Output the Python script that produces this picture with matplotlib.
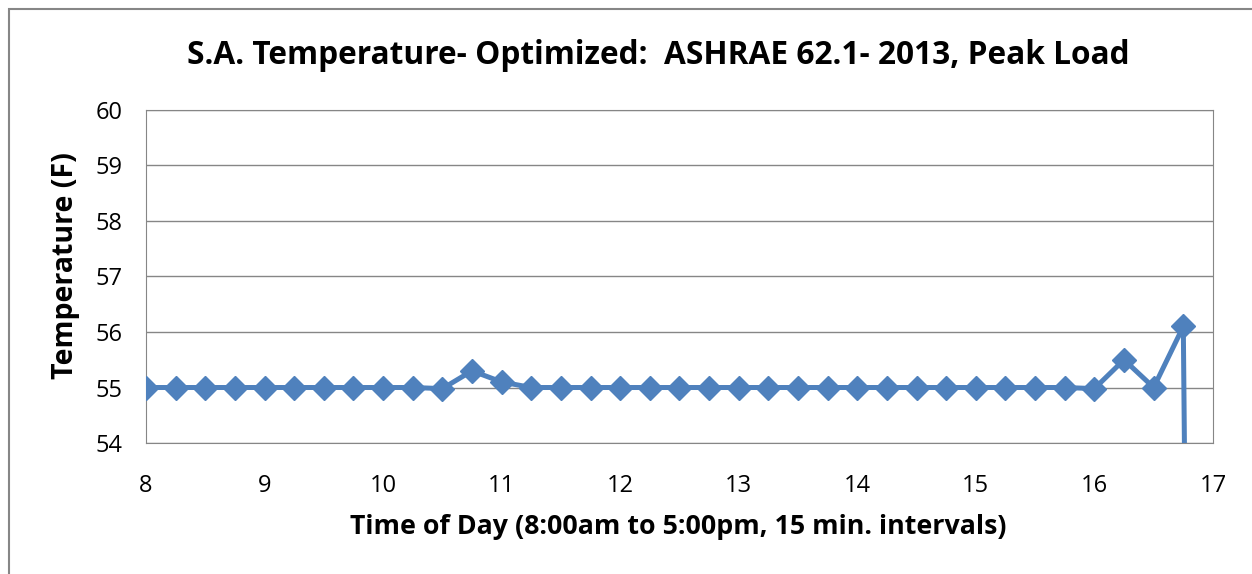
import numpy as np
import matplotlib.pyplot as plt
from matplotlib.patches import Rectangle

# time of day (hours), 15 min steps; last point runs off the bottom of the chart
hours = [8.0, 8.25, 8.5, 8.75, 9.0, 9.25, 9.5, 9.75, 10.0, 10.25, 10.5, 10.75,
         11.0, 11.25, 11.5, 11.75, 12.0, 12.25, 12.5, 12.75, 13.0, 13.25, 13.5,
         13.75, 14.0, 14.25, 14.5, 14.75, 15.0, 15.25, 15.5, 15.75, 16.0, 16.25,
         16.5, 16.75, 17.0]
temps = [55.0, 55.0, 55.0, 55.0, 55.0, 55.0, 55.0, 55.0, 55.0, 55.0, 54.98, 55.3,
         55.1, 55.0, 55.0, 55.0, 55.0, 55.0, 55.0, 55.0, 55.0, 55.0, 55.0,
         55.0, 55.0, 55.0, 55.0, 55.0, 55.0, 55.0, 55.0, 55.0, 54.98, 55.5,
         55.0, 56.1, 0.0]

plt.rc("font", family="Open Sans")

fig = plt.figure(figsize=(12.52, 5.74), dpi=100)
ax = fig.add_axes([0.1166, 0.2282, 0.8522, 0.5802])

ax.plot(hours, temps, color="#4F81BD", lw=3.6, marker="D", ms=12.5,
        clip_on=True, zorder=3)

ax.set_xlim(8, 17)
ax.set_ylim(54, 60)
ax.set_xticks(range(8, 18))
ax.set_yticks(range(54, 61))
ax.tick_params(length=0, labelsize=17)
ax.tick_params(axis="x", pad=22)
ax.tick_params(axis="y", pad=17)
ax.grid(axis="y", color="#868686", lw=1)
ax.set_axisbelow(True)
for s in ax.spines.values():
    s.set_color("#868686")

fig.text(658 / 1252, 1 - 55 / 574,
         "S.A. Temperature- Optimized:  ASHRAE 62.1- 2013, Peak Load",
         fontsize=22.8, fontweight="bold", ha="center", va="center")
ax.set_xlabel("Time of Day (8:00am to 5:00pm, 15 min. intervals)",
              fontsize=19.3, fontweight="bold", va="center")
ax.xaxis.set_label_coords(0.499, -0.252)
ax.set_ylabel("Temperature (F)", fontsize=20.5, fontweight="bold", va="center")
ax.yaxis.set_label_coords(-0.075, 0.533)

# outer chart border
fig.patches.append(Rectangle((9 / 1252, -0.05), 1.1, 1 - 9 / 574 + 0.05,
                             transform=fig.transFigure, fill=False,
                             edgecolor="#868686", lw=1.5))

fig.savefig("out.png", dpi=100)
